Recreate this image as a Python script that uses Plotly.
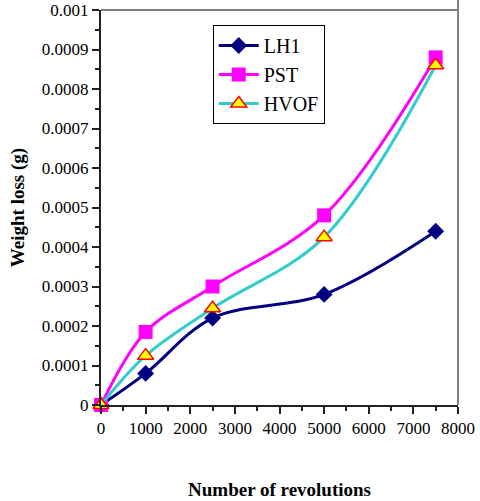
import plotly.graph_objects as go

revolutions = [0, 1000, 2500, 5000, 7500]
lh1 = [0, 0.00008, 0.00022, 0.00028, 0.00044]
pst = [0, 0.000185, 0.0003, 0.00048, 0.00088]
hvof = [0, 0.000125, 0.000245, 0.000425, 0.00086]

serif = "Liberation Serif"

fig = go.Figure()
fig.add_trace(go.Scatter(x=revolutions, y=lh1, name="LH1", mode="lines+markers", cliponaxis=False,
                         line=dict(color="#000080", width=3, shape="spline"),
                         marker=dict(symbol="diamond", size=13, color="#000080")))
fig.add_trace(go.Scatter(x=revolutions, y=pst, name="PST", mode="lines+markers", cliponaxis=False,
                         line=dict(color="#FF00FF", width=3, shape="spline"),
                         marker=dict(symbol="square", size=14, color="#FF00FF")))
fig.add_trace(go.Scatter(x=revolutions, y=hvof, name="HVOF", mode="lines+markers", cliponaxis=False,
                         line=dict(color="#33CCCC", width=3, shape="spline"),
                         marker=dict(symbol="triangle-up", size=14, color="#FFFF00",
                                     line=dict(color="#FF0000", width=1.5))))

fig.update_layout(
    width=480, height=501,
    margin=dict(l=101, r=22, t=10, b=96),
    paper_bgcolor="white", plot_bgcolor="white",
    font=dict(family=serif, size=17, color="black"),
    showlegend=True,
    legend=dict(x=0.313, y=0.962, xanchor="left", yanchor="top",
                bordercolor="black", borderwidth=1, bgcolor="white",
                font=dict(family=serif, size=20, color="black"), tracegroupgap=0, itemwidth=40),
    xaxis=dict(range=[0, 8000], dtick=1000, tickformat="d", automargin=False,
               tickfont=dict(family=serif, size=17, color="black"),
               showgrid=False, zeroline=False,
               showline=True, linecolor="#222222", linewidth=2, mirror=False,
               ticks="outside", ticklen=7, tickwidth=1.5, tickcolor="#222222",
               minor=dict(dtick=500, ticks="outside", ticklen=4, tickcolor="#222222"),
               title=dict(text="<b>Number of revolutions</b>",
                          font=dict(family=serif, size=19, color="black"), standoff=45)),
    yaxis=dict(range=[0, 0.001], dtick=0.0001, tickformat="~g", automargin=False,
               tickfont=dict(family=serif, size=17, color="black"),
               showgrid=False, zeroline=False,
               showline=True, linecolor="#222222", linewidth=2,
               ticks="outside", ticklen=7, tickwidth=1.5, tickcolor="#222222",
               minor=dict(dtick=0.00005, ticks="outside", ticklen=4, tickcolor="#222222"),
               title=dict(text="<b>Weight loss (g)</b>",
                          font=dict(family=serif, size=19, color="black"), standoff=12)),
    shapes=[
        dict(type="line", xref="paper", yref="paper", x0=0, x1=1, y0=1, y1=1,
             line=dict(color="gray", width=2)),
        dict(type="line", xref="paper", yref="paper", x0=1, x1=1, y0=0, y1=1.03,
             line=dict(color="gray", width=2)),
    ],
)

fig.write_html("out.html")
